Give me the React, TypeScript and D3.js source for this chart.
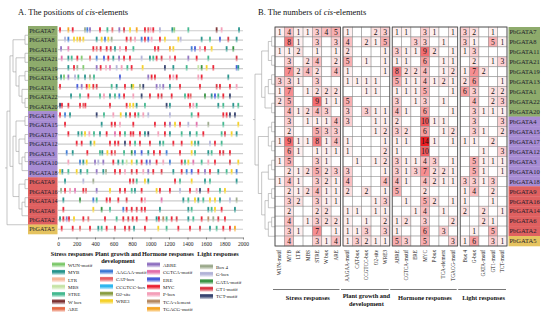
import React, { useRef, useEffect } from 'react';
import * as d3 from 'd3';

// gene order (same in both panels)
const genes = ['PbGATA7', 'PbGATA8', 'PbGATA11', 'PbGATA21', 'PbGATA19', 'PbGATA13', 'PbGATA1', 'PbGATA22', 'PbGATA20',
  'PbGATA4', 'PbGATA15', 'PbGATA17', 'PbGATA12', 'PbGATA3', 'PbGATA10', 'PbGATA18',
  'PbGATA9', 'PbGATA16', 'PbGATA14', 'PbGATA6', 'PbGATA2', 'PbGATA5'];
const subfamilies = ['I', 'I', 'I', 'I', 'I', 'I', 'I', 'I', 'I',
  'II', 'II', 'II', 'II', 'II', 'II', 'II',
  'III', 'III', 'III', 'III', 'III', 'IV'];
const subfamilyColors: Record<string, string> = { I: '#8eab6c', II: '#a78cd3', III: '#df6060', IV: '#e5c35f' };

const groupNames = ['Stress responses', 'Plant growth and development', 'Hormone responses', 'Light responses'];
const stressElements = ['WUN-motif', 'MYB', 'LTR', 'MBS', 'STRE', 'W box', 'ARE'];
const growthElements = ['AAGAA-motif', 'CAT-box', 'CCGTCC-box', 'O2-site', 'WRE3'];
const hormoneElements = ['ABRE', 'CGTCA-motif', 'ERE', 'MYC', 'P-box', 'TCA-element', 'TGACG-motif'];
const lightElements = ['Box 4', 'G-box', 'GATA-motif', 'GT1-motif', 'TCT-motif'];
const elementGroups = [stressElements, growthElements, hormoneElements, lightElements];

const elementColors = [
  '#7cc86a', '#1f9088', '#f7b596', '#c5e3a4', '#3bb58a', '#7a2f30', '#e5653f',
  '#3a78d4', '#e55a5e', '#22b2ee', '#869a3c', '#f5cf1e',
  '#8e6fc0', '#e06aa8', '#3f55d8', '#ea1c2e', '#f39ab5', '#b4875f', '#f6a21d',
  '#9aa88a', '#aeb0d6', '#2f8f3b', '#d8323f', '#2d3a68'];

// numbers of cis-elements, one row per gene
const stressCounts = [
  [1, 4, 1, 1, 3, 4, 5], [0, 8, 1, 0, 3, 0, 3], [1, 1, 2, 0, 1, 0, 1], [0, 3, 0, 2, 4, 0, 2],
  [0, 7, 2, 4, 2, 0, 4], [3, 3, 1, 0, 3, 0, 0], [1, 7, 0, 1, 2, 2, 2], [2, 5, 0, 0, 9, 1, 1],
  [0, 4, 1, 2, 4, 3, 0], [0, 3, 0, 1, 1, 1, 4], [0, 2, 0, 0, 5, 3, 3], [1, 9, 1, 1, 8, 1, 4],
  [0, 6, 1, 0, 1, 1, 1], [1, 5, 0, 0, 3, 1, 0], [0, 2, 1, 2, 5, 2, 3], [1, 4, 1, 0, 3, 2, 1],
  [0, 2, 1, 2, 4, 1, 1], [0, 3, 2, 0, 3, 1, 1], [0, 2, 0, 0, 2, 2, 0], [0, 4, 0, 1, 3, 2, 2],
  [0, 3, 1, 0, 7, 0, 1], [0, 4, 0, 0, 3, 1, 4]];
const growthCounts = [
  [1, 0, 0, 2, 3], [4, 0, 2, 1, 5], [2, 0, 0, 0, 1], [5, 0, 1, 0, 1], [1, 0, 0, 0, 1], [1, 1, 1, 1, 0],
  [0, 0, 1, 1, 0], [5, 0, 0, 0, 0], [3, 0, 3, 1, 1], [3, 0, 0, 1, 1], [0, 0, 0, 1, 2], [1, 0, 0, 0, 1],
  [1, 0, 0, 0, 2], [0, 1, 0, 1, 2], [3, 0, 0, 0, 1], [4, 0, 0, 0, 4], [2, 0, 2, 0, 1], [0, 0, 0, 1, 3],
  [1, 1, 0, 1, 1], [1, 0, 1, 0, 2], [1, 1, 3, 0, 3], [1, 3, 2, 1, 1]];
const hormoneCounts = [
  [1, 1, 0, 3, 1, 0, 1], [0, 0, 3, 3, 0, 1, 0], [3, 1, 1, 9, 2, 0, 1], [1, 1, 0, 6, 0, 1, 1],
  [8, 2, 2, 4, 0, 1, 2], [5, 1, 1, 4, 1, 2, 1], [1, 1, 1, 5, 0, 0, 1], [3, 0, 1, 3, 0, 1, 0],
  [4, 1, 0, 6, 0, 0, 1], [2, 0, 0, 10, 1, 1, 0], [3, 2, 0, 6, 0, 1, 2], [1, 1, 0, 14, 1, 0, 1],
  [1, 0, 0, 10, 0, 0, 0], [3, 1, 1, 4, 3, 0, 1], [3, 1, 3, 7, 2, 2, 1], [4, 1, 0, 4, 2, 1, 1],
  [5, 0, 0, 2, 0, 0, 0], [0, 1, 0, 5, 2, 0, 1], [0, 0, 1, 4, 0, 1, 0], [1, 2, 0, 3, 0, 0, 2],
  [1, 0, 0, 6, 0, 3, 0], [5, 3, 0, 5, 0, 0, 3]];
const lightCounts = [
  [3, 2, 0, 1, 0], [3, 1, 0, 5, 1], [1, 3, 0, 0, 0], [0, 2, 0, 1, 3], [1, 7, 2, 0, 0], [2, 6, 0, 0, 1],
  [6, 3, 0, 2, 2], [0, 4, 0, 2, 3], [0, 3, 1, 1, 1], [0, 3, 0, 0, 3], [0, 3, 1, 0, 2], [1, 1, 0, 2, 0],
  [0, 0, 1, 0, 3], [0, 5, 1, 1, 1], [0, 5, 1, 0, 1], [3, 3, 1, 3, 0], [1, 4, 0, 2, 0], [1, 0, 0, 1, 0],
  [2, 0, 2, 0, 1], [0, 0, 2, 1, 0], [0, 1, 0, 5, 0], [1, 6, 0, 3, 1]];
const groupCounts = [stressCounts, growthCounts, hormoneCounts, lightCounts];

// positions (bp) of cis-elements along the 2000 bp promoters
const siteCodes: Record<string, string> = {
  WUN: 'WUN-motif', MYB: 'MYB', LTR: 'LTR', MBS: 'MBS', STRE: 'STRE', WBOX: 'W box', ARE: 'ARE',
  AAGAA: 'AAGAA-motif', CAT: 'CAT-box', CCGTCC: 'CCGTCC-box', O2: 'O2-site', WRE3: 'WRE3',
  ABRE: 'ABRE', CGTCA: 'CGTCA-motif', ERE: 'ERE', MYC: 'MYC', PBOX: 'P-box', TCA: 'TCA-element', TGACG: 'TGACG-motif',
  BOX4: 'Box 4', GBOX: 'G-box', GATA: 'GATA-motif', GT1: 'GT1-motif', TCT: 'TCT-motif'};
const sites = [
  '22:MYC 112:TGACG 159:MYC 292:BOX4 317:AAGAA 346:ABRE 454:MYC 534:STRE 588:CAT 663:ABRE 714:GT1 779:WRE3 851:TGACG 940:MYC 976:CAT 1001:PBOX 1030:MYC 1102:GBOX 1236:MYB 1257:WUN 1409:STRE 1715:WBOX 1769:PBOX 1957:MYB',
  '76:GBOX 112:AAGAA 173:WRE3 209:WRE3 238:TGACG 274:WRE3 418:MYB 472:WRE3 508:AAGAA 544:WRE3 580:BOX4 742:MYC 786:CAT 833:PBOX 904:AAGAA 940:MYC 976:ERE 1012:PBOX 1102:MYC 1156:WRE3 1301:WRE3 1326:GBOX 1553:MYB 1643:STRE 1751:ERE 1841:GT1 1931:MYB',
  '33:ABRE 112:CGTCA 382:MYC 418:CAT 461:MYC 526:MYC 570:GT1 616:MYB 670:PBOX 735:MYC 815:STRE 1048:MYC 1084:MYC 1210:TGACG 1247:WRE3 1445:AAGAA 1481:ERE 1535:PBOX 1589:MYC 1661:WRE3 1823:MYB 1895:GATA',
  '40:CGTCA 112:MYB 148:STRE 209:MYC 256:WUN 346:CAT 418:AAGAA 497:ERE 544:MYC 598:MYB 660:ABRE 714:MYC 778:MYC 904:GBOX 994:MYB 1030:STRE 1066:MYC 1120:GT1 1210:PBOX 1265:MYC 1409:ABRE 1499:MYC 1625:STRE 1931:GT1',
  '112:MYB 173:MYC 209:BOX4 274:WUN 418:ABRE 461:MYC 519:PBOX 562:CGTCA 634:GBOX 688:PBOX 750:STRE 796:MYC 915:WRE3 1156:TCT 1247:MYB 1391:STRE 1517:MBS 1553:GATA 1607:WRE3 1679:MYC 1931:ERE 1949:MYB',
  '33:MYB 65:WUN 112:ABRE 184:GBOX 220:STRE 292:MYB 346:BOX4 389:STRE 670:ERE 976:ABRE 1012:MYC 1048:MYC 1210:MYC 1247:PBOX 1283:MYC 1517:PBOX 1553:MYC 1841:MYB',
  '22:MYC 209:ERE 256:ABRE 310:MYC 339:WRE3 382:MYC 418:GT1 580:STRE 634:MYB 724:MYC 797:GATA 814:WRE3 886:BOX4 922:TCT 1066:ABRE 1102:GBOX 1138:ABRE 1210:MYB 1319:MYC 1535:MYC 1715:GT1 1751:MYC 1859:MYC 1931:PBOX',
  '141:MYB 238:STRE 328:MYC 454:STRE 497:PBOX 562:MYB 616:STRE 663:AAGAA 714:MYC 814:PBOX 904:TCT 994:MYC 1084:MYC 1120:GT1 1229:MYC 1373:STRE 1409:MYC 1434:CAT 1589:GATA 1661:MYB 1697:ERE 1733:STRE 1787:MYC 1859:TCT',
  '22:TCT 43:MYC 112:MYC 238:MYC 274:CAT 296:MYC 562:MYC 742:MYC 778:WRE3 814:WRE3 850:MYB 940:STRE 1174:TCT 1210:MYB 1427:MYC 1463:PBOX 1499:STRE 1733:MYB 1787:STRE 1895:MYB 1949:STRE',
  '22:MYC 76:AAGAA 130:MYB 418:TCT 497:STRE 598:PBOX 678:WRE3 735:MYB 779:MYC 833:MYC 869:STRE 922:PBOX 976:GBOX 1210:GBOX 1445:STRE 1517:MYC 1787:MYC 1823:MYC 1859:TCT 1913:TCT',
  '76:MYC 472:MYB 580:MYC 616:MYC 670:PBOX 814:MYC 1048:MYC 1156:MYC 1210:ABRE 1265:WRE3 1319:MYC 1409:GBOX 1499:CGTCA 1625:BOX4 1787:STRE 1949:WRE3',
  '112:MYC 220:MYB 256:STRE 292:WRE3 339:PBOX 389:STRE 454:MYB 526:MYC 616:CGTCA 670:MYC 724:STRE 786:MYC 814:MYC 886:MYC 940:MYB 976:TCT 1084:PBOX 1156:MYC 1210:MYB 1337:STRE 1427:MYB 1499:STRE 1571:MYC 1769:STRE 1805:GT1 1877:WRE3 1931:MYB',
  '202:MYC 256:MYC 353:MYB 393:WRE3 562:MYC 616:MYC 652:MYC 724:TCT 779:MYC 833:STRE 886:MYC 994:MYC 1102:MYB 1138:STRE 1247:MYC 1337:MYC 1445:WRE3 1481:STRE 1517:MYB 1643:GBOX 1697:MYC 1769:STRE',
  '94:AAGAA 159:MYB 317:MYC 454:STRE 479:MYB 534:WRE3 580:MYC 616:CAT 714:STRE 797:GATA 832:AAGAA 904:ERE 976:MYB 1037:MYC 1102:MYC 1174:AAGAA 1319:MYC 1445:WRE3 1481:STRE 1625:MYB 1661:STRE 1751:MYC 1787:GT1 1859:MYC',
  '112:PBOX 238:AAGAA 274:MYB 310:WRE3 400:ABRE 436:GBOX 490:ABRE 598:MYC 652:MYB 699:STRE 742:MBS 797:WRE3 851:STRE 904:MYC 958:ERE 994:ABRE 1066:MYC 1138:PBOX 1210:AAGAA 1337:MYC 1373:STRE 1409:WRE3 1463:CGTCA 1553:STRE 1625:PBOX 1697:MYC 1859:GT1 1949:WRE3',
  '22:WRE3 47:MYB 112:STRE 202:WRE3 245:MYB 317:STRE 418:ABRE 490:MYB 519:BOX4 616:MYC 670:MYC 724:PBOX 797:GT1 851:MYC 922:PBOX 976:ABRE 1030:MYC 1120:GT1 1247:MYB 1337:MYC 1391:AAGAA 1445:ERE 1517:MYC 1589:ABRE 1643:MYC 1733:MYB 1823:STRE 1877:WRE3 1931:AAGAA',
  '76:MYB 274:GBOX 382:BOX4 778:MYC 814:GT1 851:STRE 940:WRE3 976:MYB 1265:MYC 1319:STRE 1445:WRE3 1589:MYB 1643:STRE 1931:MYB',
  '33:BOX4 76:MYC 130:PBOX 184:CGTCA 274:MYC 303:CAT 418:ABRE 562:WRE3 670:MYC 724:MYC 797:STRE 832:MYB 904:MYC 1066:WRE3 1102:MYC 1210:MYC 1319:GBOX 1427:MYC 1499:PBOX 1535:TCT 1625:MYC 1751:STRE 1805:WRE3',
  '58:MYB 238:GATA 382:AAGAA 418:STRE 526:MYC 562:MYC 652:MYC 742:GT1 904:MYC 940:PBOX 1120:CGTCA 1355:MYB 1409:STRE 1481:WRE3 1517:MYB 1571:STRE 1643:WRE3 1697:WRE3 1751:MYB 1859:GBOX 1931:BOX4',
  '58:MYC 382:WRE3 472:GATA 562:STRE 706:AAGAA 742:MYC 797:MYC 851:GT1 904:MYC 940:MYC 1102:MYB 1409:MYB 1445:STRE 1625:MYB 1661:STRE 1697:WRE3 1769:MYC 1913:MYB',
  '22:MYB 58:MYC 94:ABRE 119:MYC 173:WRE3 274:MYC 328:CAT 508:MYC 634:STRE 706:MYC 760:GT1 807:MYC 851:MYC 958:MYC 1066:MYB 1091:MYC 1138:TCA 1174:STRE 1229:MYC 1283:GT1 1409:MYB 1463:STRE 1553:MYC 1625:TCA 1679:BOX4 1733:GT1 1805:MYC',
  '40:MYC 159:MYC 238:CAT 346:MYC 436:MYB 472:STRE 526:MYC 616:GT1 724:MYC 771:GT1 822:MYB 940:MYC 1084:WRE3 1174:STRE 1301:MYC 1427:MYC 1535:GT1 1643:MYB 1715:STRE 1787:MYC 1859:MYC 1913:TGACG'];
const axisTicks = [0, 200, 400, 600, 800, 1000, 1200, 1400, 1600, 1800, 2000];

// dendrograms (leaf order matches genes)
const treeA: any = [[[['PbGATA7', 'PbGATA8'], [['PbGATA11', 'PbGATA21'], [['PbGATA19', 'PbGATA13'], ['PbGATA1', ['PbGATA22', 'PbGATA20']]]]],
  [[['PbGATA4', 'PbGATA15'], [['PbGATA17', 'PbGATA12'], [['PbGATA3', 'PbGATA10'], 'PbGATA18']]],
   [['PbGATA9', 'PbGATA16'], [['PbGATA14', 'PbGATA6'], 'PbGATA2']]]], 'PbGATA5'];
const treeB: any = [[[['PbGATA7', 'PbGATA8'], ['PbGATA11', 'PbGATA21']], [[['PbGATA19', 'PbGATA13'], 'PbGATA1'], ['PbGATA22', 'PbGATA20']]],
  [[['PbGATA4', 'PbGATA15'], ['PbGATA17', 'PbGATA12']],
   [[['PbGATA3', 'PbGATA10'], 'PbGATA18'], [[['PbGATA9', 'PbGATA16'], 'PbGATA14'], [['PbGATA6', 'PbGATA2'], 'PbGATA5']]]]];

const FONT = '"Liberation Serif", "Times New Roman", serif';

export default function App() {
  const svgRef = useRef<SVGSVGElement>(null);

  useEffect(() => {
    if (!svgRef.current) return;
    const svg = d3.select(svgRef.current);
    svg.selectAll('*').remove();
    const allElements = elementGroups.flat();

    // gradients for the little marks and legend swatches
    const defs = svg.append('defs');
    allElements.forEach((e, i) => {
      const g = defs.append('linearGradient').attr('id', `el${i}`)
        .attr('x1', 0).attr('y1', 0).attr('x2', 0).attr('y2', 1);
      g.append('stop').attr('offset', '0%').attr('stop-color', d3.interpolateRgb(elementColors[i], '#fff')(0.15));
      g.append('stop').attr('offset', '40%').attr('stop-color', elementColors[i]);
      g.append('stop').attr('offset', '100%').attr('stop-color', d3.interpolateRgb(elementColors[i], '#fff')(0.8));
    });

    const title = (x: number, letter: string, rest: string) => {
      const t = svg.append('text').attr('x', x).attr('y', 15)
        .attr('font-family', FONT).attr('font-size', 8.5).attr('fill', '#111');
      t.append('tspan').text(`${letter} ${rest} `);
      t.append('tspan').attr('font-style', 'italic').text('cis');
      t.append('tspan').text('-elements');
    };
    title(18, 'A.', 'The positions of');
    title(258, 'B.', 'The numbers of');

    // tree helper
    const drawTree = (tree: any, rows: d3.ScaleBand<string>, x0: number, x1: number) => {
      const root = d3.hierarchy(tree, (d: any) => (Array.isArray(d) ? d : null));
      const span = rows.step() * (genes.length - 1);
      d3.cluster<any>().size([span, x1 - x0]).separation(() => 1)(root);
      const top = (rows(genes[0]) as number) + rows.bandwidth() / 2;
      const g = svg.append('g').attr('fill', 'none').attr('stroke', '#a0a0a0').attr('stroke-width', 0.6);
      root.descendants().forEach((n: any) => {
        if (!n.children) return;
        const ys = n.children.map((c: any) => c.x + top);
        g.append('line').attr('x1', x0 + n.y).attr('x2', x0 + n.y)
          .attr('y1', d3.min(ys) as number).attr('y2', d3.max(ys) as number);
        n.children.forEach((c: any) => {
          g.append('line').attr('x1', x0 + n.y).attr('x2', x0 + c.y)
            .attr('y1', c.x + top).attr('y2', c.x + top);
        });
      });
      const r: any = root;
      g.append('line').attr('x1', x0 - 2).attr('x2', x0).attr('y1', r.x + top).attr('y2', r.x + top);
    };

    // ---------- panel A ----------
    const rowA = d3.scaleBand<string>().domain(genes).range([26, 234]);
    const pos = d3.scaleLinear().domain([0, 2000]).range([58, 243]);
    drawTree(treeA, rowA, 7, 28);

    genes.forEach((gname, i) => {
      const y = rowA(gname) as number;
      const cy = y + rowA.bandwidth() / 2;
      svg.append('rect').attr('x', 28).attr('y', y).attr('width', 29.5).attr('height', rowA.bandwidth() + 0.3)
        .attr('fill', subfamilyColors[subfamilies[i]]);
      svg.append('text').attr('x', 29.2).attr('y', cy + 2.2).text(gname)
        .attr('font-family', FONT).attr('font-size', 6.1).attr('fill', '#1c1c2a');
      svg.append('line').attr('x1', pos(0)).attr('x2', pos(2000)).attr('y1', cy).attr('y2', cy)
        .attr('stroke', '#cccccc').attr('stroke-width', 1.2);
      sites[i].split(' ').forEach(tok => {
        const [bp, code] = tok.split(':');
        const ei = allElements.indexOf(siteCodes[code]);
        svg.append('rect').attr('x', pos(+bp) - 0.9).attr('y', cy - 3.5).attr('width', 1.8).attr('height', 6)
          .attr('fill', `url(#el${ei})`);
      });
    });

    const axis = svg.append('g').attr('transform', 'translate(0,237.5)')
      .call(d3.axisBottom(pos).tickValues(axisTicks).tickSize(2).tickSizeOuter(0).tickFormat(d3.format('d')));
    axis.selectAll('text').attr('font-family', FONT).attr('font-size', 5.5).attr('fill', '#222').attr('dy', '0.6em');
    axis.selectAll('path,line').attr('stroke', '#444').attr('stroke-width', 0.6);

    // legend
    const legendX = [52, 100, 147, 200];
    const legendTitleX = [72, 118, 168, 218];
    const legendStartY = [265, 272, 265, 267];
    let idx = 0;
    elementGroups.forEach((els, gi) => {
      const tl = svg.append('text').attr('x', legendTitleX[gi]).attr('text-anchor', 'middle')
        .attr('font-family', FONT).attr('font-size', 6.2).attr('font-weight', 'bold').attr('fill', '#111');
      if (gi === 1) {
        tl.append('tspan').attr('x', legendTitleX[gi]).attr('y', 256).text('Plant growth and');
        tl.append('tspan').attr('x', legendTitleX[gi]).attr('y', 263).text('development');
      } else {
        tl.attr('y', 256).text(groupNames[gi]);
      }
      els.forEach((e, k) => {
        const y = legendStartY[gi] + k * 7.4;
        svg.append('rect').attr('x', legendX[gi]).attr('y', y - 2.5).attr('width', 13).attr('height', 5)
          .attr('fill', `url(#el${idx})`);
        svg.append('text').attr('x', legendX[gi] + 16).attr('y', y + 1.8).text(e)
          .attr('font-family', FONT).attr('font-size', 5).attr('fill', '#222');
        idx++;
      });
    });

    // ---------- panel B ----------
    const rowB = d3.scaleBand<string>().domain(genes).range([27, 246]);
    drawTree(treeB, rowB, 255, 275);

    const groupRanges: [number, number][] = [[275, 340.5], [343, 389.8], [392.2, 457.7], [460.2, 507]];
    const maxCount = d3.max(groupCounts.flatMap(gc => gc.flat())) as number;
    const heat = d3.scaleLinear<string>().domain([0, maxCount]).range(['#ffffff', '#ec1c22']).interpolate(d3.interpolateRgb);

    elementGroups.forEach((els, gi) => {
      const col = d3.scaleBand<string>().domain(els).range(groupRanges[gi]);
      const g = svg.append('g');
      genes.forEach((gname, ri) => {
        els.forEach((e, ci) => {
          const v = groupCounts[gi][ri][ci];
          const x = col(e) as number;
          const y = rowB(gname) as number;
          g.append('rect').attr('x', x).attr('y', y).attr('width', col.bandwidth()).attr('height', rowB.bandwidth())
            .attr('fill', heat(v)).attr('stroke', '#8c8c8c').attr('stroke-width', 0.5);
          if (v > 0) {
            g.append('text').attr('x', x + col.bandwidth() / 2).attr('y', y + rowB.bandwidth() / 2 + 2.6)
              .attr('text-anchor', 'middle').attr('font-family', FONT).attr('font-size', 7.6).attr('fill', '#111')
              .text(v);
          }
        });
      });
      g.append('rect').attr('x', groupRanges[gi][0]).attr('y', 27)
        .attr('width', groupRanges[gi][1] - groupRanges[gi][0]).attr('height', 219)
        .attr('fill', 'none').attr('stroke', '#4a4a4a').attr('stroke-width', 0.8);

      // rotated column labels
      els.forEach(e => {
        const cx = (col(e) as number) + col.bandwidth() / 2;
        svg.append('text').attr('transform', `translate(${cx + 1.8},250) rotate(-90)`)
          .attr('text-anchor', 'end').attr('font-family', FONT).attr('font-size', 5.2).attr('fill', '#222')
          .text(e);
      });

      // group underline + title
      svg.append('line').attr('x1', groupRanges[gi][0] - 2).attr('x2', groupRanges[gi][1] - 1)
        .attr('y1', 289.5).attr('y2', 289.5).attr('stroke', '#555').attr('stroke-width', 0.8);
      const cx = (groupRanges[gi][0] + groupRanges[gi][1]) / 2;
      const t = svg.append('text').attr('x', cx).attr('text-anchor', 'middle')
        .attr('font-family', FONT).attr('font-size', 6.4).attr('font-weight', 'bold').attr('fill', '#111');
      if (gi === 1) {
        t.append('tspan').attr('x', cx).attr('y', 298).text('Plant growth and');
        t.append('tspan').attr('x', cx).attr('y', 305.5).text('development');
      } else {
        t.attr('y', 300).text(groupNames[gi]);
      }
    });

    genes.forEach((gname, i) => {
      const y = rowB(gname) as number;
      svg.append('rect').attr('x', 508.5).attr('y', y).attr('width', 31.5).attr('height', rowB.bandwidth() + 0.3)
        .attr('fill', subfamilyColors[subfamilies[i]]);
      svg.append('text').attr('x', 509.5).attr('y', y + rowB.bandwidth() / 2 + 2.3).text(gname)
        .attr('font-family', FONT).attr('font-size', 6.5).attr('fill', '#1c1c2a');
    });

    return () => { svg.selectAll('*').remove(); };
  }, []);

  return (
    <svg ref={svgRef} width={550} height={320}
      style={{ position: 'absolute', left: 0, top: 0, background: '#fff', display: 'block' }} />
  );
}
